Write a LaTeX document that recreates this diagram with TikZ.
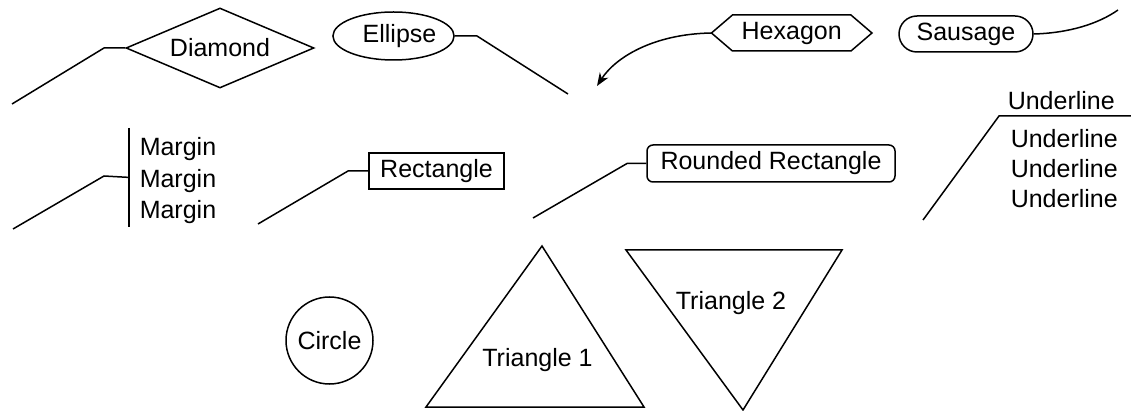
\documentclass[tikz,border=0pt]{standalone}
\usepackage{fontspec}
\setmainfont{Liberation Sans}
\usetikzlibrary{shapes.geometric,shapes.misc,arrows.meta}
\begin{document}
\begin{tikzpicture}[x=1pt,y=1pt,line width=1.5pt,
  every node/.style={font=\fontsize{25}{30}\selectfont, inner sep=0pt},
  conn/.style={line width=1.5pt},
  shapebox/.style={draw, line width=1.5pt},
  tip/.style={-{Stealth[length=13pt,width=10pt,inset=4pt]}}]
\useasboundingbox (0,0) rectangle (1131,-411);

% Diamond
\node[shapebox, diamond, aspect=2.35, minimum width=188pt, minimum height=80pt] (dia) at (220,-48) {Diamond\hspace{14pt}};
\coordinate (diaK) at (104,-48);
\coordinate (diaE) at (12,-104);
\draw[conn] (dia.west) -- (diaK) -- (diaE);

% Ellipse
\node[shapebox, ellipse, minimum width=121pt, minimum height=48pt] (ell) at (393.5,-36) {\hspace{12pt}Ellipse};
\coordinate (ellK) at (477,-36);
\coordinate (ellE) at (568,-94);
\draw[conn] (ell.east) -- (ellK) -- (ellE);

% Hexagon
\node[minimum width=117pt, minimum height=34.5pt] (hex) at (791.7,-33) {Hexagon};
\coordinate (hexW) at ([xshift=-21pt]hex.west);
\coordinate (hexE) at ([xshift=21pt]hex.east);
\draw[shapebox] (hex.north west) -- (hex.north east) -- (hexE) -- (hex.south east) -- (hex.south west) -- (hexW) -- cycle;
\coordinate (hexA) at (597,-86);
\draw[conn, tip] (hexW) .. controls +(-59,-1) and +(18,28) .. (hexA);

% Sausage
\node[shapebox, rounded rectangle, minimum width=134pt, minimum height=36pt] (sau) at (966,-34) {Sausage};
\coordinate (sauE) at (1118,-10);
\draw[conn] (sau.east) .. controls +(35,1) and +(-20,-14) .. (sauE);

% Margin
\node[align=left, anchor=north west, inner xsep=10pt, inner ysep=0pt, font=\fontsize{25}{31.5}\selectfont] (mar) at (129,-137) {Margin\\Margin\\Margin};
\draw[conn] ([yshift=9pt]mar.north west) -- ([yshift=-2pt]mar.south west);
\coordinate (marK) at (104,-176);
\coordinate (marE) at (13,-229);
\draw[conn] ([yshift=3.5pt]mar.west) -- (marK) -- (marE);

% Rectangle
\node[shapebox, minimum width=135pt, minimum height=36pt] (rect) at (436.5,-171) {Rectangle};
\coordinate (rectK) at (348,-171);
\coordinate (rectE) at (258,-224);
\draw[conn] (rect.west) -- (rectK) -- (rectE);

% Rounded Rectangle
\node[shapebox, rounded corners=6pt, minimum width=248pt, minimum height=37pt] (rr) at (771,-163.5) {Rounded Rectangle\hspace{11pt}};
\coordinate (rrK) at (627,-163.5);
\coordinate (rrE) at (533,-218);
\draw[conn] (rr.west) -- (rrK) -- (rrE);

% Underline
\node[anchor=south west, text width=116pt, align=left, inner xsep=8pt, text depth=6pt] (ul) at (999,-116) {Underline};
\coordinate (ulE) at (923,-220);
\draw[conn] (ul.south east) -- (ul.south west) -- (ulE);
\node[align=left, anchor=north west] (ul2) at (1010,-129) {Underline\\Underline\\Underline};

% Circle
\node[shapebox, circle, minimum size=87pt] (cir) at (329.5,-340.5) {Circle};

% Triangle 1
\coordinate (t1a) at (542,-246);
\coordinate (t1b) at (644,-407);
\coordinate (t1c) at (426,-407);
\draw[conn] (t1a) -- (t1b) -- (t1c) -- cycle;
\node[anchor=base] (t1) at (537.5,-366) {Triangle 1};

% Triangle 2
\coordinate (t2a) at (626,-250);
\coordinate (t2b) at (842,-250);
\coordinate (t2c) at (743,-410);
\draw[conn] (t2a) -- (t2b) -- (t2c) -- cycle;
\node[anchor=base] (t2) at (731,-309) {Triangle 2};
\end{tikzpicture}
\end{document}
